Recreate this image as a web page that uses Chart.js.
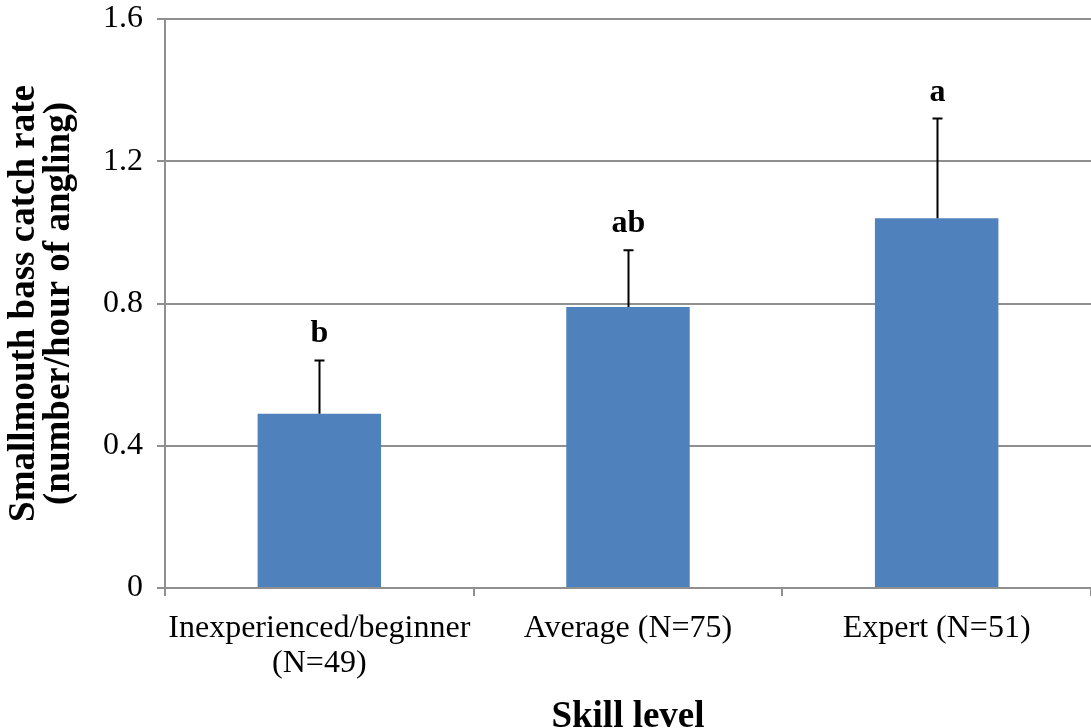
<!DOCTYPE html>
<html>
<head>
<meta charset="utf-8">
<script src="https://cdn.jsdelivr.net/npm/chart.js@4/dist/chart.umd.min.js"></script>
<style>
  html,body{margin:0;padding:0;background:#fff;}
  #wrap{width:1091px;height:728px;position:relative;}
</style>
</head>
<body>
<div id="wrap"><canvas id="chart"></canvas></div>
<script>
const categories = [["Inexperienced/beginner","(N=49)"], "Average (N=75)", "Expert (N=51)"];
const catchRate = [0.49, 0.79, 1.04];
const stdErr = [0.15, 0.16, 0.28];
const groupLetters = ["b", "ab", "a"];
const yTicks = [0, 0.4, 0.8, 1.2, 1.6];

const SERIF = "'Liberation Serif','Times New Roman',serif";
const GRID = "#8f8f8f";

// error bars + significance letters
const errorBars = {
  id:'errorBars',
  afterDatasetsDraw(chart){
    const ctx = chart.ctx;
    const y = chart.scales.y;
    const meta = chart.getDatasetMeta(0);
    ctx.save();
    meta.data.forEach((bar,i)=>{
      const x = Math.round(bar.x) + 0.5;
      const yTop = y.getPixelForValue(catchRate[i] + stdErr[i]);
      const yBase = y.getPixelForValue(catchRate[i]);
      ctx.strokeStyle = '#000';
      ctx.lineWidth = 2;
      ctx.beginPath();
      ctx.moveTo(x, yBase);
      ctx.lineTo(x, yTop);
      ctx.moveTo(x-5, yTop);
      ctx.lineTo(x+5, yTop);
      ctx.stroke();

      ctx.fillStyle = '#000';
      ctx.font = "bold 32px " + SERIF;
      ctx.textAlign = 'center';
      ctx.textBaseline = 'alphabetic';
      ctx.fillText(groupLetters[i], x, yTop - 18);
    });
    ctx.restore();
  }
};

new Chart(document.getElementById('chart'), {
  type:'bar',
  data:{
    labels: categories,
    datasets:[{
      data: catchRate,
      backgroundColor:'#4F81BD',
      borderWidth:0,
      categoryPercentage:0.4,
      barPercentage:1.0
    }]
  },
  options:{
    responsive:true,
    maintainAspectRatio:false,
    animation:false,
    layout:{ padding:{ top:19, right:0, left:0, bottom:0 } },
    plugins:{ legend:{display:false}, tooltip:{enabled:false} },
    scales:{
      x:{
        offset:true,
        grid:{ display:true, drawOnChartArea:false, drawTicks:true, tickLength:8, color:GRID, lineWidth:2, offset:true },
        border:{ display:true, color:GRID, width:2 },
        ticks:{ color:'#000', font:{family:SERIF, size:32, lineHeight:1.1}, padding:15, maxRotation:0, autoSkip:false },
        title:{ display:true, text:'Skill level', color:'#000', font:{family:SERIF, size:37, weight:'bold', lineHeight:0.9}, padding:{top:10,bottom:-6} },
        afterFit(s){ s.height = 140; }
      },
      y:{
        min:0, max:1.6,
        afterBuildTicks(s){ s.ticks = yTicks.map(v=>({value:v})); },
        grid:{ color:GRID, lineWidth:2, tickLength:8 },
        border:{ display:true, color:GRID, width:2 },
        ticks:{ color:'#000', font:{family:SERIF, size:32}, padding:14,
          callback:(v)=> v===0 ? '0' : v.toFixed(1) },
        title:{ display:true, text:['Smallmouth bass catch rate','(number/hour of angling)'], color:'#000',
          font:{family:SERIF, size:37, weight:'bold', lineHeight:0.95}, padding:{top:7,bottom:4} },
        afterFit(s){ s.width = 165; s.paddingTop = 0; s.paddingBottom = 0; }
      }
    }
  },
  plugins:[errorBars]
});
</script>
</body>
</html>
